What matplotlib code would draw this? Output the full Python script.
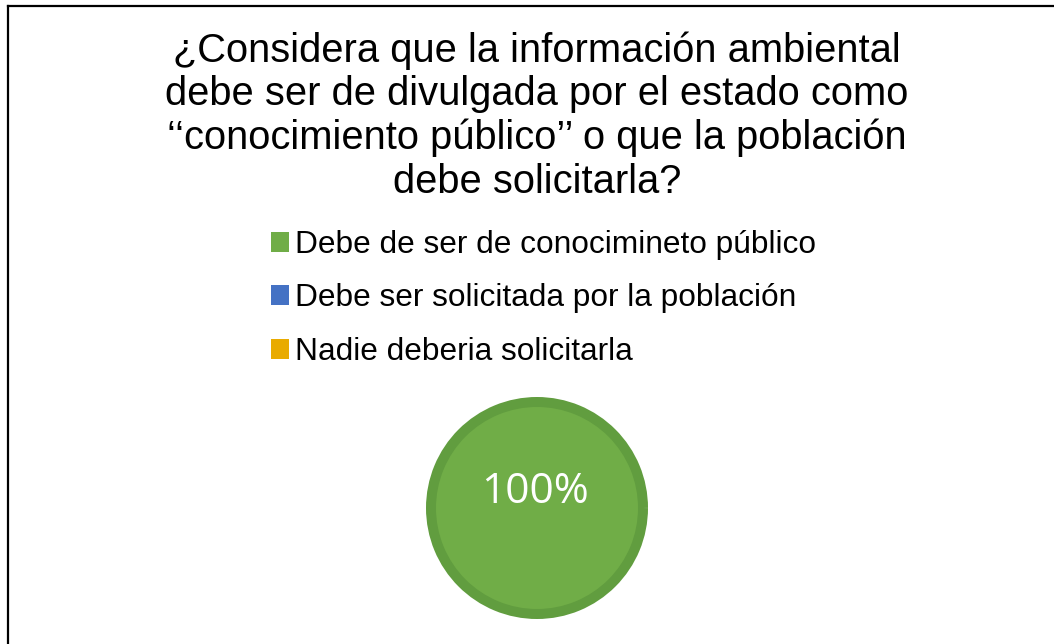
import matplotlib.pyplot as plt
from matplotlib.patches import Patch
from matplotlib.lines import Line2D

# ---------- data ----------
title = ("¿Considera que la información ambiental\n"
         "debe ser de divulgada por el estado como\n"
         "‘‘conocimiento público’’ o que la población\n"
         "debe solicitarla?")
categories = ["Debe de ser de conocimineto público",
              "Debe ser solicitada por la población",
              "Nadie deberia solicitarla"]
values = [100, 0, 0]
colors = ["#70AD47", "#4472C4", "#E9AB00"]

W, H = 1054, 644
fig = plt.figure(figsize=(W / 100, H / 100), dpi=100)
fig.patch.set_facecolor("white")

# chart border (top + left edges visible)
fig.add_artist(Line2D([8 / W, 1], [1 - 6 / H, 1 - 6 / H], color="black", lw=1.6))
fig.add_artist(Line2D([8 / W, 8 / W], [0, 1 - 6 / H], color="black", lw=1.6))

# title
fig.text(537 / W, 1 - 31 / H, title, ha="center", va="top", fontsize=28.7,
         family="Liberation Sans", linespacing=1.19, multialignment="center")

# legend
fs = 22.8
handles = [Patch(facecolor=c, edgecolor="none") for c in colors]
fig.legend(handles, categories, loc="upper left",
           bbox_to_anchor=(271 / W, 1 - 230 / H), frameon=False,
           prop={"family": "Liberation Sans", "size": fs},
           handlelength=0.58, handleheight=0.58, handletextpad=0.19,
           labelspacing=0.74, borderpad=0, borderaxespad=0)

# pie
r_px = 106
half = 1.05 * r_px
ax = fig.add_axes([(537 - half) / W, (H - 508 - half) / H, 2 * half / W, 2 * half / H])
nz = [(v, c) for v, c in zip(values, colors) if v > 0]
wedges, texts, autotexts = ax.pie([v for v, _ in nz], colors=[c for _, c in nz],
                                  startangle=-90, autopct="%1.0f%%", pctdistance=0.15,
                                  wedgeprops={"edgecolor": "#619D3F", "linewidth": 7.2},
                                  textprops={"color": "white", "fontsize": 30.5,
                                             "family": "Open Sans"})
for t in autotexts:
    t.set_x(t.get_position()[0] - 0.02)
ax.set_xlim(-1.05, 1.05)
ax.set_ylim(-1.05, 1.05)
ax.set_aspect("equal")
ax.axis("off")

plt.savefig("out.png", dpi=100)
